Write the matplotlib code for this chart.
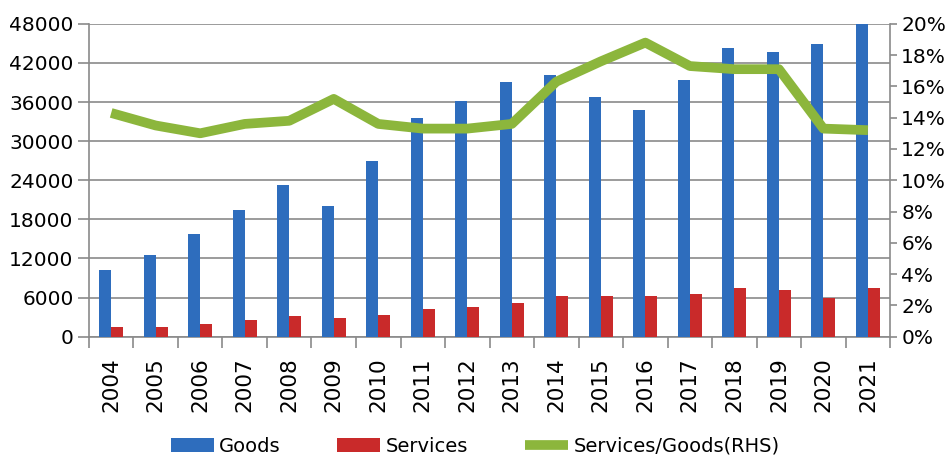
import numpy as np
import matplotlib.pyplot as plt
from matplotlib.ticker import MultipleLocator, FuncFormatter

years = [str(y) for y in range(2004, 2022)]
goods = [10200, 12500, 15700, 19400, 23200, 20000, 26900, 33600, 36200,
         39100, 40200, 36800, 34800, 39400, 44300, 43700, 44900, 48000]
services = [1450, 1450, 1950, 2560, 3120, 2800, 3380, 4250, 4560,
            5170, 6250, 6250, 6290, 6550, 7410, 7170, 5940, 7410]
ratio = [14.3, 13.5, 13.0, 13.6, 13.8, 15.2, 13.6, 13.3, 13.3,
         13.6, 16.3, 17.6, 18.8, 17.3, 17.1, 17.1, 13.3, 13.2]

blue = '#2e6dbd'
red = '#c92a2a'
green = '#8cb63c'
grid_col = '#8a8a8a'

fig = plt.figure(figsize=(9.46, 4.58), dpi=100)
ax = fig.add_axes([0.094, 0.265, 0.847, 0.683])
x = np.arange(len(years))
w = 0.27
ax.bar(x - w/2, goods, w, color=blue, label='Goods', zorder=3)
ax.bar(x + w/2, services, w, color=red, label='Services', zorder=3)

ax.set_xlim(-0.5, len(years) - 0.5)
ax.set_ylim(0, 48000)
ax.yaxis.set_major_locator(MultipleLocator(6000))
ax.grid(axis='y', color=grid_col, linewidth=1.2, zorder=0)
ax.set_xticks(x)
ax.set_xticklabels(years, rotation=90, fontsize=15.5)
ax.set_xticks(np.arange(-0.5, len(years)), minor=True)
ax.tick_params(axis='x', which='major', length=0, pad=15)
ax.tick_params(axis='x', which='minor', length=8, color=grid_col, width=1.2)
ax.tick_params(axis='y', length=8, color=grid_col, width=1.2, pad=3, labelsize=14.5)
for s in ['left', 'right', 'bottom']:
    ax.spines[s].set_color(grid_col)
    ax.spines[s].set_linewidth(1.2)
ax.spines['top'].set_visible(False)

ax2 = ax.twinx()
ax2.plot(x, ratio, color=green, linewidth=7, solid_joinstyle='round',
         solid_capstyle='butt', label='Services/Goods(RHS)', zorder=4)
ax2.set_ylim(0, 20)
ax2.yaxis.set_major_locator(MultipleLocator(2))
ax2.yaxis.set_major_formatter(FuncFormatter(lambda v, p: '%d%%' % v))
ax2.tick_params(axis='y', length=5, color=grid_col, width=1.2, pad=3, labelsize=14.5)
for s in ax2.spines.values():
    s.set_visible(False)

h1, l1 = ax.get_legend_handles_labels()
h2, l2 = ax2.get_legend_handles_labels()
fig.legend(h1 + h2, l1 + l2, loc='center left', bbox_to_anchor=(0.162, 0.026),
           ncol=3, frameon=False, fontsize=14,
           handlelength=2.2, handleheight=0.7, columnspacing=2.9, handletextpad=0.3)

fig.savefig('out.png', dpi=100)
